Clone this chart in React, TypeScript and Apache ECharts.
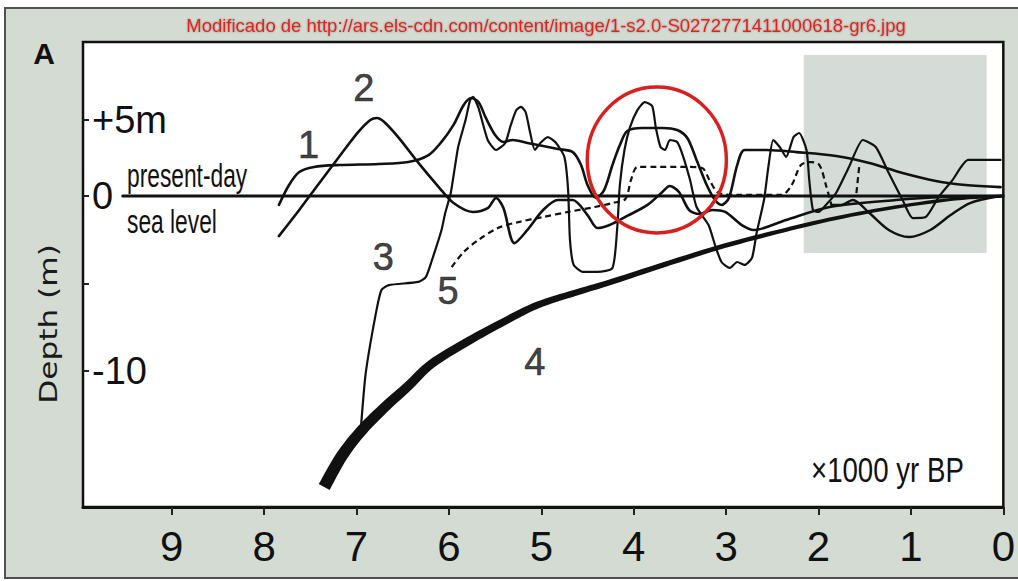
import React, { useEffect, useRef } from "react";
import * as echarts from "echarts";

type Pt = [number, number];

// Axis ticks (x: thousands of years BP, y: metres relative to present sea level)
const xTickValues = [0, 1, 2, 3, 4, 5, 6, 7, 8, 9];
const yTickValues = [4.35, 0, -5, -10];
const yLabelValues = [4.35, 0, -10];
const yLabelText = ["+5m", "0", "-10"];

// Present-day sea level reference line
const seaLevel: Pt[] = [[9.53, 0], [0, 0]];

// Curve 1
const curve1: Pt[] = [
  [7.84, -0.51], [7.73, 0.63], [7.62, 1.37], [7.46, 1.66], [7.19, 1.77], [6.76, 1.83],
  [6.44, 1.94], [6.22, 2.34], [6.08, 3.09], [5.95, 4.06], [5.84, 5.2], [5.76, 5.6],
  [5.68, 5.37], [5.6, 4.46], [5.5, 3.49], [5.41, 3.09], [5.31, 3.2], [5.15, 3.03],
  [4.98, 2.86], [4.82, 2.69], [4.66, 2.51], [4.57, 1.77], [4.5, 0.63], [4.41, -0.11],
  [4.32, 0.34], [4.23, 1.77], [4.15, 2.91], [4.07, 3.71], [3.91, 3.89], [3.69, 3.89],
  [3.53, 3.77], [3.42, 3.31], [3.32, 2.06], [3.21, 0.63], [3.12, -0.23], [3.05, -0.51],
  [2.97, -0.11], [2.88, 1.77], [2.8, 2.63], [2.56, 2.63], [2.24, 2.51], [1.81, 2.29],
  [1.45, 1.89], [1.09, 1.31], [0.73, 0.86], [0.41, 0.63], [0.03, 0.51],
];

// Curve 2
const curve2: Pt[] = [
  [7.84, -2.29], [7.62, -0.8], [7.41, 0.69], [7.19, 2.23], [6.98, 3.66], [6.85, 4.34],
  [6.78, 4.46], [6.7, 4.23], [6.54, 3.31], [6.33, 1.89], [6.11, 0.51], [5.95, -0.4],
  [5.74, -0.91], [5.58, -0.69], [5.49, -0.11], [5.41, -0.69], [5.29, -2.69], [5.15, -1.94],
  [4.98, -0.8], [4.82, -0.23], [4.66, -0.23], [4.5, -1.09], [4.39, -1.83], [4.26, -1.66],
  [4.07, -1.14], [3.85, -0.51], [3.69, 0.23], [3.61, 0.57], [3.51, 0.23], [3.4, -0.8],
  [3.29, -1.03], [3.15, -0.8], [3.01, -0.91], [2.83, -1.66], [2.7, -1.94], [2.35, -1.37],
  [1.88, -0.63], [1.16, -0.23], [0.62, -0.06], [0.03, 0],
];

// Curve 3
const curve3: Pt[] = [
  [6.95, -13.09], [6.9, -10.11], [6.79, -6.69], [6.73, -5.37], [6.65, -5.09], [6.33, -4.91],
  [6.25, -4.63], [6.19, -3.77], [6.08, -1.94], [6.04, -0.97], [5.98, 0.17], [5.9, 2.8],
  [5.82, 4.34], [5.77, 5.49], [5.74, 5.66], [5.68, 5.03], [5.58, 3.2], [5.49, 2.63],
  [5.39, 3.03], [5.33, 4.06], [5.27, 4.91], [5.22, 5.09], [5.17, 4.8], [5.12, 3.6],
  [5.07, 2.63], [5.01, 3.03], [4.93, 3.37], [4.84, 3.03], [4.75, 2.23], [4.71, 0.34],
  [4.69, -2.51], [4.65, -3.94], [4.55, -4.34], [4.39, -4.34], [4.23, -4.11], [4.18, -1.94],
  [4.15, 0.63], [4.1, 2.63], [4.04, 3.94], [3.96, 4.91], [3.88, 5.37], [3.8, 5.14],
  [3.76, 3.89], [3.71, 2.8], [3.66, 2.63], [3.61, 3.2], [3.53, 3.09], [3.47, 2.34],
  [3.39, 0.91], [3.32, -0.63], [3.19, -1.66], [3.12, -2.8], [3.05, -3.77], [2.96, -4.11],
  [2.88, -3.77], [2.8, -3.94], [2.72, -3.54], [2.67, -2.11], [2.59, -0.23], [2.54, 1.77],
  [2.49, 3.2], [2.42, 2.8], [2.35, 2.23], [2.27, 3.37], [2.21, 3.6], [2.13, 2.63],
  [2.1, 0.91], [2.06, -0.8], [2.0, -0.91], [1.92, -0.51], [1.81, 0.17], [1.67, 1.66],
  [1.52, 3.2], [1.38, 2.8], [1.24, 1.31], [1.09, -0.23], [0.98, -1.26], [0.84, -1.2],
  [0.7, -0.06], [0.55, 0.91], [0.38, 2.06], [0.03, 2.06],
];

// Curve 4 (lower envelope)
const curve4: Pt[] = [
  [7.35, -16.63], [7.16, -14.86], [6.94, -13.37], [6.68, -12.0], [6.44, -10.86], [6.19, -9.6],
  [5.79, -8.29], [5.39, -7.14], [5.04, -6.23], [4.64, -5.54], [4.28, -4.97], [3.75, -4.06],
  [3.1, -2.97], [2.45, -2.06], [1.81, -1.26], [1.16, -0.63], [0.52, -0.17], [0, 0],
];

// Curve 5 (dashed part, a short dashed stub, and its solid continuation)
const curve5: Pt[] = [
  [5.97, -4.06], [5.84, -3.2], [5.68, -2.51], [5.47, -1.83], [5.25, -1.49], [4.98, -1.2],
  [4.71, -0.91], [4.42, -0.63], [4.23, -0.4], [4.09, -0.17], [4.03, 0.91], [3.96, 1.66],
  [3.75, 1.66], [3.42, 1.66], [3.26, 1.6], [3.18, 0.91], [3.08, 0.17], [2.88, 0.06],
  [2.4, 0.06], [2.29, 0.63], [2.19, 1.77], [2.08, 1.94], [1.99, 1.77], [1.92, 0.63],
  [1.86, -0.51],
];
const curve5Stub: Pt[] = [[1.59, 0.17], [1.56, 1.66]];
const curve5Tail: Pt[] = [
  [1.86, -0.51], [1.75, -0.51], [1.63, -0.23], [1.45, -0.97], [1.24, -1.94], [1.02, -2.34],
  [0.79, -1.94], [0.57, -1.09], [0.36, -0.4], [0.03, 0],
];

// Curve number labels
const curveNames = ["1", "2", "3", "4", "5"];
const curveLabelX = [7.52, 6.92, 6.71, 5.07, 6.01];
const curveLabelY = [2.91, 6.17, -3.49, -9.49, -5.43];

// Shaded period and highlighted interval (centre x, centre y, half-width, half-height)
const shadedFrom: Pt = [2.16, 8.06];
const shadedTo: Pt = [0.18, -3.26];
const highlight = [3.75, 2.06, 0.753, 4.17];

const INK = "#111";
const SANS = "Liberation Sans, Arial, sans-serif";

// Stroke width of curve 4 along its length: heavy at the old end, fine at present
const taperWidth = (f: number) => 3 + 9.5 * Math.pow(1 - f, 1.4);

// Tapered ribbon through the projected points of curve 4 (Catmull-Rom sampled)
function taperedRibbon(api: any) {
  const pts: number[][] = curve4.map((p) => api.coord(p));
  const n = pts.length;
  const steps = 8;
  const dense: { x: number; y: number; f: number }[] = [];
  for (let i = 0; i < n - 1; i++) {
    const p0 = pts[Math.max(i - 1, 0)];
    const p1 = pts[i];
    const p2 = pts[i + 1];
    const p3 = pts[Math.min(i + 2, n - 1)];
    for (let s = 0; s < steps; s++) {
      const t = s / steps;
      const t2 = t * t;
      const t3 = t2 * t;
      const cr = (a: number, b: number, c: number, d: number) =>
        0.5 * (2 * b + (-a + c) * t + (2 * a - 5 * b + 4 * c - d) * t2 + (-a + 3 * b - 3 * c + d) * t3);
      dense.push({
        x: cr(p0[0], p1[0], p2[0], p3[0]),
        y: cr(p0[1], p1[1], p2[1], p3[1]),
        f: (i + t) / (n - 1),
      });
    }
  }
  dense.push({ x: pts[n - 1][0], y: pts[n - 1][1], f: 1 });
  const left: number[][] = [];
  const right: number[][] = [];
  for (let k = 0; k < dense.length; k++) {
    const a = dense[Math.max(k - 1, 0)];
    const b = dense[Math.min(k + 1, dense.length - 1)];
    let tx = b.x - a.x;
    let ty = b.y - a.y;
    const len = Math.hypot(tx, ty) || 1;
    tx /= len;
    ty /= len;
    const hw = taperWidth(dense[k].f) / 2;
    left.push([dense[k].x - ty * hw, dense[k].y + tx * hw]);
    right.push([dense[k].x + ty * hw, dense[k].y - tx * hw]);
  }
  return left.concat(right.reverse());
}

function buildOption(): echarts.EChartsCoreOption {
  const lineSeries = (data: Pt[], width: number, extra: object = {}) => ({
    type: "line",
    data,
    showSymbol: false,
    symbol: "none",
    smooth: 0.3,
    z: 3,
    silent: true,
    lineStyle: { color: INK, width, cap: "round", join: "round" },
    ...extra,
  });

  return {
    animation: false,
    backgroundColor: "#ffffff",
    grid: {
      left: 83,
      right: 10,
      top: 42,
      bottom: 74,
      show: true,
      backgroundColor: "#ffffff",
      borderColor: INK,
      borderWidth: 2.5,
    },
    xAxis: {
      type: "value",
      z: 8,
      inverse: true,
      min: 0,
      max: 9.96,
      interval: 1,
      axisLine: { show: true, onZero: false, lineStyle: { color: INK, width: 3 } },
      axisTick: { show: true, length: 8, customValues: xTickValues, lineStyle: { color: "#222", width: 2 } },
      axisLabel: {
        customValues: xTickValues,
        fontSize: 42,
        fontFamily: SANS,
        color: INK,
        margin: 18,
      },
      splitLine: { show: false },
    },
    yAxis: {
      type: "value",
      z: 8,
      min: -17.77,
      max: 8.8,
      axisLine: { show: true, onZero: false, lineStyle: { color: INK, width: 2 } },
      axisTick: { show: true, inside: true, length: 6, customValues: yTickValues, lineStyle: { color: "#222", width: 2 } },
      axisLabel: {
        inside: true,
        customValues: yLabelValues,
        formatter: (v: number) => {
          const i = yLabelValues.findIndex((t) => Math.abs(t - v) < 1e-6);
          return i >= 0 ? yLabelText[i] : "";
        },
        fontSize: 38,
        fontFamily: SANS,
        color: INK,
        margin: 9,
      },
      splitLine: { show: false },
    },
    graphic: {
      elements: [
        {
          type: "rect",
          z: -10,
          silent: true,
          shape: { x: 5, y: 8, width: 1030, height: 570 },
          style: { fill: "#d4dbd2", stroke: "#505050", lineWidth: 2 },
        },
        {
          type: "text",
          z: 10,
          x: 546,
          y: 25,
          style: {
            text: "Modificado de http://ars.els-cdn.com/content/image/1-s2.0-S0272771411000618-gr6.jpg",
            fill: "#e2231f",
            font: "18.5px " + SANS,
            align: "center",
            verticalAlign: "middle",
            textShadowColor: "rgba(0,0,0,0.35)",
            textShadowBlur: 2,
          },
        },
        {
          type: "text",
          z: 10,
          x: 44,
          y: 53,
          style: { text: "A", fill: INK, font: "bold 30px " + SANS, align: "center", verticalAlign: "middle" },
        },
        {
          type: "text",
          z: 10,
          x: 49,
          y: 324,
          rotation: Math.PI / 2,
          scaleX: 1.3,
          style: {
            text: "Depth (m)",
            fill: "#1a1a1a",
            font: "24px DejaVu Sans, sans-serif",
            align: "center",
            verticalAlign: "middle",
          },
        },
        {
          type: "text",
          z: 10,
          x: 127,
          y: 175,
          scaleX: 0.67,
          style: { text: "present-day", fill: INK, font: "34px " + SANS, align: "left", verticalAlign: "middle" },
        },
        {
          type: "text",
          z: 10,
          x: 127,
          y: 221,
          scaleX: 0.67,
          style: { text: "sea level", fill: INK, font: "34px " + SANS, align: "left", verticalAlign: "middle" },
        },
        {
          type: "text",
          z: 10,
          x: 811,
          y: 470,
          scaleX: 0.79,
          style: { text: "×1000 yr BP", fill: INK, font: "35px " + SANS, align: "left", verticalAlign: "middle" },
        },
      ],
    },
    series: [
      {
        type: "line",
        data: [],
        z: 2,
        silent: true,
        markArea: {
          silent: true,
          itemStyle: { color: "#d5dbd7" },
          data: [[{ coord: shadedFrom }, { coord: shadedTo }]],
        },
      },
      lineSeries(seaLevel, 3, { smooth: false }),
      lineSeries(curve1, 2.6),
      lineSeries(curve2, 2.6),
      lineSeries(curve3, 2.2, { smooth: 0.2 }),
      lineSeries(curve5, 2.2, { lineStyle: { color: INK, width: 2.2, type: [6, 4] } }),
      lineSeries(curve5Stub, 2.2, { smooth: false, lineStyle: { color: INK, width: 2.2, type: [6, 4] } }),
      lineSeries(curve5Tail, 2.4),
      {
        type: "custom",
        z: 4,
        silent: true,
        data: [[curve4[0][0], curve4[0][1]]],
        renderItem: (_params: unknown, api: any) => ({
          type: "polygon",
          shape: { points: taperedRibbon(api) },
          style: { fill: INK },
        }),
      },
      {
        type: "custom",
        z: 6,
        silent: true,
        clip: false,
        data: [highlight],
        renderItem: (_params: unknown, api: any) => {
          const c = api.coord([api.value(0), api.value(1)]);
          const s = api.size([api.value(2), api.value(3)]);
          return {
            type: "ellipse",
            shape: { cx: c[0], cy: c[1], rx: Math.abs(s[0]), ry: Math.abs(s[1]) },
            style: { fill: "none", stroke: "#d8211f", lineWidth: 3.5 },
          };
        },
      },
      {
        type: "scatter",
        z: 7,
        silent: true,
        symbolSize: 0,
        data: curveNames.map((n, i) => ({ name: n, value: [curveLabelX[i], curveLabelY[i]] })),
        label: {
          show: true,
          position: "inside",
          formatter: (p: any) => p.name,
          fontSize: 38,
          fontFamily: SANS,
          color: INK,
          textBorderColor: INK,
          textBorderWidth: 0.6,
        },
      },
    ],
  };
}

export default function App() {
  const ref = useRef<HTMLDivElement>(null);

  useEffect(() => {
    if (!ref.current) return;
    const chart = echarts.init(ref.current, undefined, { renderer: "svg" });
    chart.setOption(buildOption());
    return () => chart.dispose();
  }, []);

  return (
    <div
      ref={ref}
      style={{ position: "fixed", left: 0, top: 0, width: 1018, height: 581 }}
    />
  );
}
